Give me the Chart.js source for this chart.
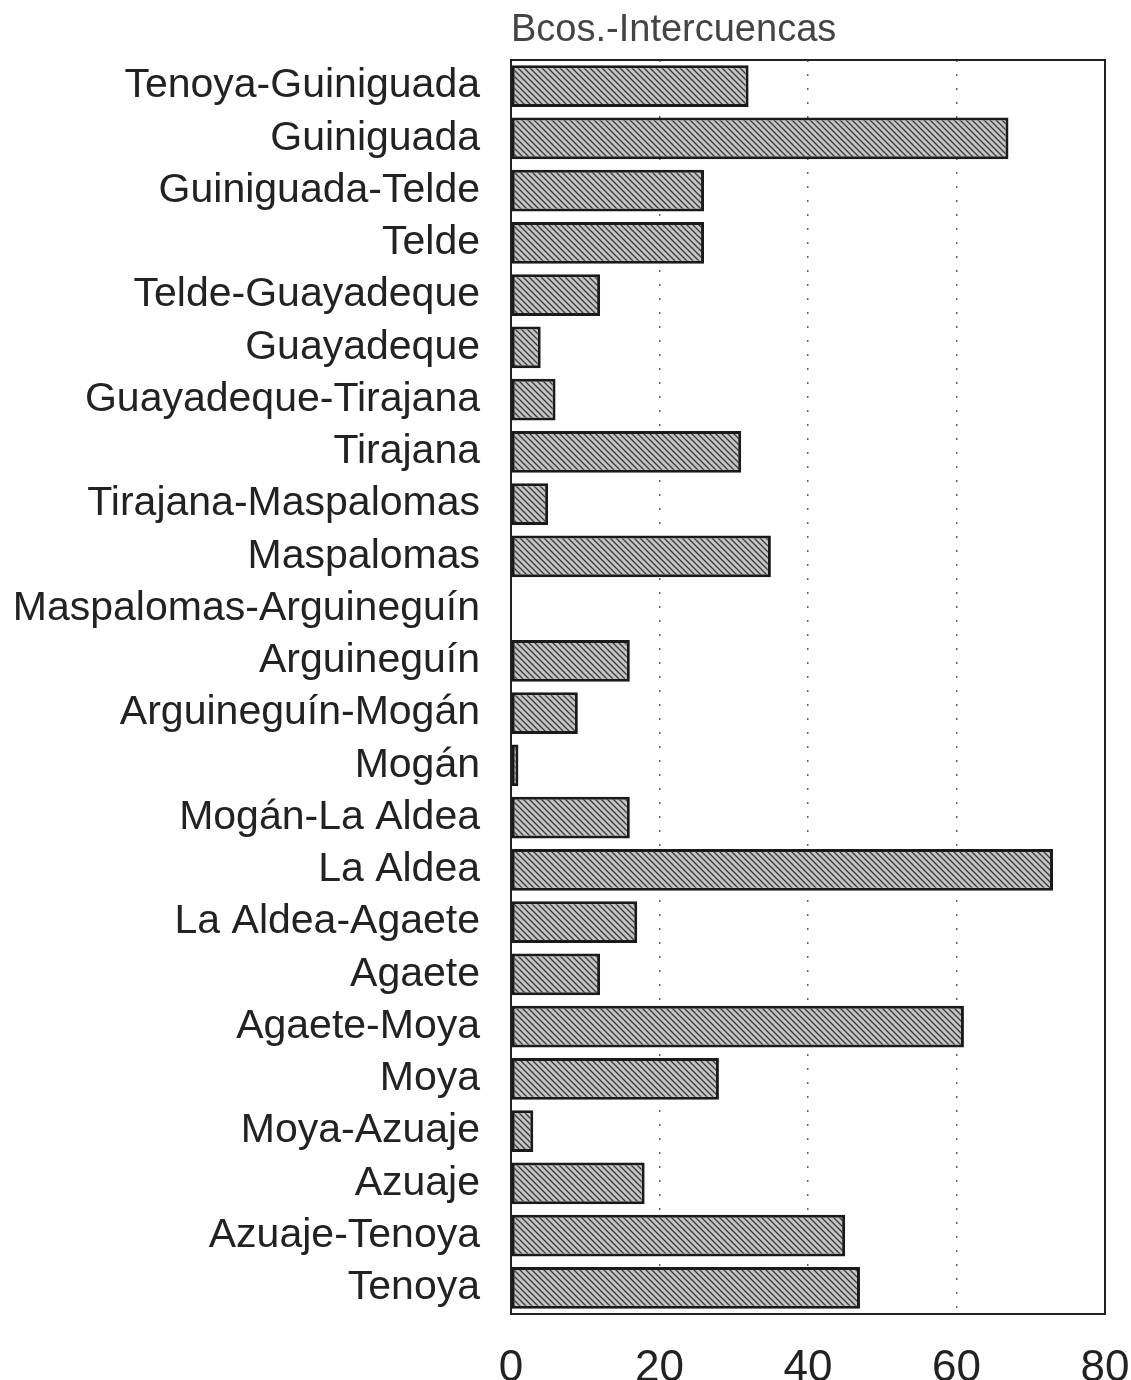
<!DOCTYPE html>
<html>
<head>
<meta charset="utf-8">
<script src="https://cdn.jsdelivr.net/npm/chart.js@4.4.1/dist/chart.umd.min.js"></script>
<style>
  html, body { margin: 0; padding: 0; background: #fff; }
  #wrap { width: 1131px; height: 1380px; }
</style>
</head>
<body>
<div id="wrap"><canvas id="myChart"></canvas></div>
<script>
// data
const chartTitle = "Bcos.-Intercuencas";
const labels = [
  "Tenoya-Guiniguada", "Guiniguada", "Guiniguada-Telde", "Telde",
  "Telde-Guayadeque", "Guayadeque", "Guayadeque-Tirajana", "Tirajana",
  "Tirajana-Maspalomas", "Maspalomas", "Maspalomas-Arguineguín", "Arguineguín",
  "Arguineguín-Mogán", "Mogán", "Mogán-La Aldea", "La Aldea",
  "La Aldea-Agaete", "Agaete", "Agaete-Moya", "Moya",
  "Moya-Azuaje", "Azuaje", "Azuaje-Tenoya", "Tenoya"
];
const values = [
  32, 67, 26, 26,
  12, 4, 6, 31,
  5, 35, 0, 16,
  9, 1, 16, 73,
  17, 12, 61, 28,
  3, 18, 45, 47
];
const xTicks = [0, 20, 40, 60, 80];

// stippled grey fill like the printed bars
function makePattern() {
  const c = document.createElement("canvas");
  c.width = 6; c.height = 6;
  const g = c.getContext("2d");
  g.fillStyle = "#c4c4c4";
  g.fillRect(0, 0, 6, 6);
  g.strokeStyle = "#3a3a3a";
  g.lineWidth = 1.3;
  g.beginPath();
  g.moveTo(0, 0); g.lineTo(6, 6);
  g.moveTo(-3, 3); g.lineTo(3, 9);
  g.moveTo(3, -3); g.lineTo(9, 3);
  g.stroke();
  return g.createPattern(c, "repeat");
}

const frameAndTitle = {
  id: "frameAndTitle",
  afterDraw(chart) {
    const { ctx, chartArea } = chart;
    ctx.save();
    ctx.strokeStyle = "#222";
    ctx.lineWidth = 2;
    ctx.strokeRect(chartArea.left, chartArea.top, chartArea.right - chartArea.left, chartArea.bottom - chartArea.top);
    ctx.fillStyle = "#444";
    ctx.font = "38px 'Liberation Sans', Arial, sans-serif";
    ctx.textBaseline = "middle";
    ctx.textAlign = "left";
    ctx.fillText(chartTitle, chartArea.left, 31);
    ctx.restore();
  }
};

const ctx = document.getElementById("myChart");
new Chart(ctx, {
  type: "bar",
  data: {
    labels: labels,
    datasets: [{
      data: values,
      backgroundColor: makePattern(),
      borderColor: "#1a1a1a",
      borderWidth: 3,
      borderSkipped: false,
      barPercentage: 0.8,
      categoryPercentage: 1
    }]
  },
  options: {
    indexAxis: "y",
    responsive: true,
    maintainAspectRatio: false,
    animation: false,
    layout: { padding: { top: 60, right: 26, left: 0, bottom: 0 } },
    plugins: { legend: { display: false }, tooltip: { enabled: false } },
    scales: {
      x: {
        min: 0,
        max: 80,
        afterBuildTicks: (scale) => { scale.ticks = xTicks.map(v => ({ value: v })); },
        afterFit: (scale) => {
          scale.height = 66;
          scale.paddingLeft = 0;
          scale.paddingRight = 0;
        },
        ticks: {
          color: "#222",
          padding: 28,
          font: { family: "'Liberation Sans', Arial, sans-serif", size: 44 }
        },
        grid: {
          drawTicks: false,
          lineWidth: 1.5,
          color: (c) => (c.tick && (c.tick.value === 0 || c.tick.value === 80)) ? "rgba(0,0,0,0)" : "#666"
        },
        border: { display: false, dash: [2, 12] }
      },
      y: {
        afterFit: (scale) => {
          scale.width = 511;
          scale.paddingTop = 0;
          scale.paddingBottom = 0;
        },
        ticks: {
          color: "#222",
          padding: 31,
          autoSkip: false,
          font: { family: "'Liberation Sans', Arial, sans-serif", size: 41 }
        },
        grid: { display: false, drawTicks: false },
        border: { display: false }
      }
    }
  },
  plugins: [frameAndTitle]
});
</script>
</body>
</html>
